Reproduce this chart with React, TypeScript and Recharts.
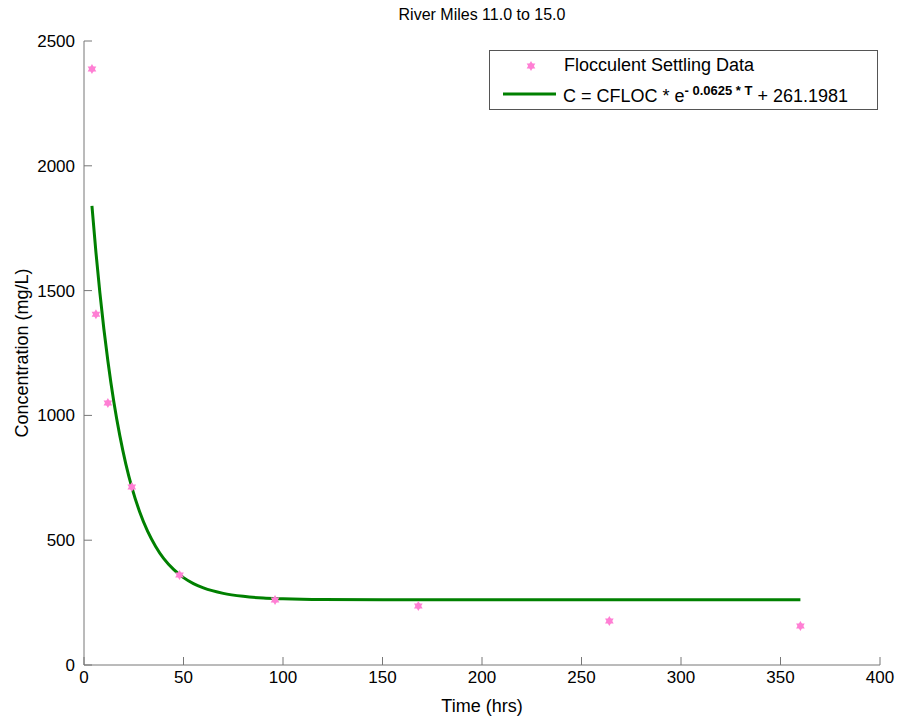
import { ComposedChart, Line, Scatter, XAxis, YAxis } from "recharts";

// measured settling data (hrs, mg/L)
const sampleTimes = [4, 6, 12, 24, 48, 96, 168, 264, 360];
const sampleConc = [2388, 1405, 1050, 713, 361, 260, 236, 176, 156];

// fitted curve
const fitTimes = [4, 6, 8, 10, 12, 15, 18, 21, 24, 28, 32, 36, 40, 45, 50, 55, 60, 70, 80, 90, 100, 120, 150, 200, 250, 300, 360];
const fitConc = [1839, 1653, 1490, 1345, 1218, 1054, 919, 806, 713, 613, 535, 475, 427, 383, 350, 326, 309, 287, 275, 268, 265, 262, 261, 261, 261, 261, 261];

const xTicks = [0, 50, 100, 150, 200, 250, 300, 350, 400];
const yTicks = [0, 500, 1000, 1500, 2000, 2500];

const samples = sampleTimes.map((t, i) => ({ t, c: sampleConc[i] }));
const fit = fitTimes.map((t, i) => ({ t, c: fitConc[i] }));

const FONT = "'Liberation Sans', Arial, sans-serif";
const PINK = "#ff7fd4";
const GREEN = "#008000";

function Star(props: any) {
  const { cx, cy } = props;
  if (cx == null || cy == null) return null;
  const r = 5;
  const tri = (rot: number) =>
    [0, 1, 2]
      .map((k) => {
        const a = rot + (k * 2 * Math.PI) / 3;
        return `${cx + r * Math.sin(a)},${cy - r * Math.cos(a)}`;
      })
      .join(" ");
  return (
    <g>
      <polygon points={tri(0)} fill={PINK} />
      <polygon points={tri(Math.PI)} fill={PINK} />
    </g>
  );
}

function LegendBox() {
  return (
    <div
      style={{
        position: "absolute",
        left: 489,
        top: 50,
        border: "1px solid #555",
        background: "#fff",
        width: 387,
        height: 58,
        fontFamily: FONT,
        fontSize: 18,
        color: "#000",
      }}
    >
      <svg width={70} height={58} style={{ position: "absolute", left: 0, top: 0 }}>
        <Star cx={41} cy={15} />
        <line x1={13} x2={66} y1={43} y2={43} stroke={GREEN} strokeWidth={3} />
      </svg>
      <div style={{ position: "absolute", left: 74, top: 4, whiteSpace: "nowrap" }}>Flocculent Settling Data</div>
      <div style={{ position: "absolute", left: 73, top: 32, whiteSpace: "nowrap" }}>
        C = CFLOC * e
        <sup style={{ fontSize: 13, fontWeight: "bold", verticalAlign: 7 }}>- 0.0625 * T</sup> + 261.1981
      </div>
    </div>
  );
}

export default function App() {
  return (
    <div style={{ position: "absolute", left: 0, top: 0, width: 899, height: 721, background: "#fff" }}>
      <div
        style={{
          position: "absolute",
          top: 6,
          left: 84,
          width: 796,
          textAlign: "center",
          fontFamily: FONT,
          fontSize: 16,
        }}
      >
        River Miles 11.0 to 15.0
      </div>
      <ComposedChart width={899} height={721} margin={{ top: 41, right: 19, bottom: 26, left: 24 }}>
        <XAxis
          type="number"
          dataKey="t"
          domain={[0, 400]}
          ticks={xTicks}
          allowDataOverflow
          height={30}
          tickSize={-8}
          tickMargin={14}
          stroke="#777"
          tick={{ fill: "#000", fontSize: 17, fontFamily: FONT }}
          label={{ value: "Time (hrs)", position: "insideBottom", offset: -17, fill: "#000", fontSize: 18, fontFamily: FONT }}
        />
        <YAxis
          type="number"
          dataKey="c"
          domain={[0, 2500]}
          ticks={yTicks}
          allowDataOverflow
          width={60}
          tickSize={-8}
          tickMargin={17}
          stroke="#777"
          tick={{ fill: "#000", fontSize: 17, fontFamily: FONT }}
          label={{
            value: "Concentration (mg/L)",
            angle: -90,
            position: "insideLeft",
            offset: -2,
            style: { textAnchor: "middle" },
            fill: "#000",
            fontSize: 18,
            fontFamily: FONT,
          }}
        />
        <Scatter data={samples} dataKey="c" shape={<Star />} isAnimationActive={false} />
        <Line
          data={fit}
          dataKey="c"
          type="monotone"
          stroke={GREEN}
          strokeWidth={3}
          dot={false}
          isAnimationActive={false}
        />
      </ComposedChart>
      <LegendBox />
    </div>
  );
}
